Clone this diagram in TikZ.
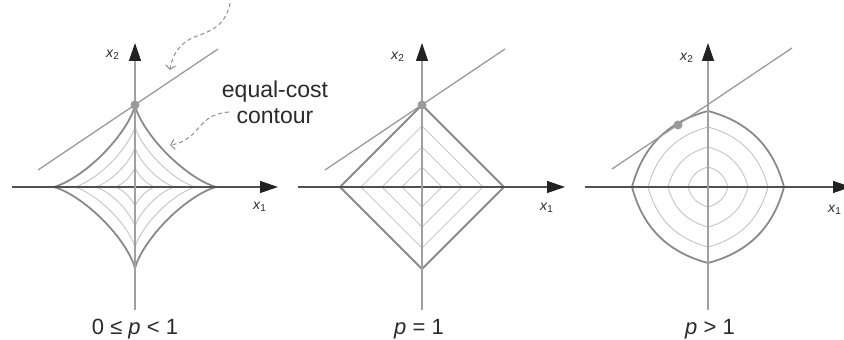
\documentclass[tikz,border=0pt]{standalone}
\usepackage{fontspec}
\setmainfont{Liberation Sans}
\usetikzlibrary{arrows.meta,positioning}

\definecolor{axdark}{HTML}{505050}
\definecolor{axlight}{HTML}{A0A0A0}
\definecolor{tipc}{HTML}{222222}
\definecolor{outc}{HTML}{8A8A8A}
\definecolor{innc}{HTML}{C8C8C8}
\definecolor{linec}{HTML}{9A9A9A}
\definecolor{notec}{HTML}{8C8C8C}
\definecolor{txtc}{HTML}{2A2A2A}

\begin{document}
\begin{tikzpicture}[
  x=0.5pt, y=0.5pt,
  xaxis/.style={draw=axdark, line width=0.65pt, -{Triangle[length=9pt,width=6pt,color=tipc]}},
  yaxis/.style={draw=axlight, line width=0.65pt, -{Triangle[length=9pt,width=6pt,color=tipc]}},
  outer/.style={draw=outc, line width=0.9pt},
  inner/.style={draw=innc, line width=0.5pt},
  cost/.style={draw=linec, line width=0.65pt},
  dot/.style={circle, fill=linec, inner sep=0pt, minimum size=4.5pt},
  axlab/.style={font=\fontsize{7}{8}\selectfont, text=txtc, inner sep=0pt},
  plabel/.style={font=\fontsize{11}{13}\selectfont, text=txtc, anchor=base},
  note/.style={draw=notec, line width=0.5pt, dash pattern=on 2pt off 1.5pt,
               -{Straight Barb[length=2pt,width=5pt]}}
]
\useasboundingbox (0,0) rectangle (844,340);

% p < 1
\begin{scope}[shift={(135,153)}]
  \foreach \lv in {20,40,61}
    \draw[inner] plot[domain=1:361, samples=181]
      ({\lv*sign(cos(\x))*abs(cos(\x))^(8/3)}, {\lv*sign(sin(\x))*abs(sin(\x))^(8/3)}) -- cycle;
  \draw[outer] plot[domain=1:361, samples=181]
      ({82*sign(cos(\x))*abs(cos(\x))^(8/3)}, {82*sign(sin(\x))*abs(sin(\x))^(8/3)}) -- cycle;
  \draw[xaxis] (-123,0) -- (143,0);
  \draw[yaxis] (0,-123) -- (0,144);
  \node[axlab] (xa1) at (125,-20) {\textit{x}\textsubscript{1}};
  \node[axlab] (ya1) at (-22,132) {\textit{x}\textsubscript{2}};
  \coordinate (la1) at (-97,17);
  \coordinate (lb1) at (83,138);
  \draw[cost] (la1) -- (lb1);
  \node[dot] (hit1) at (0,82) {};
  \node[plabel] (cap1) at (0,-148) {0 ≤ \textit{p} < 1};
\end{scope}

% p = 1
\begin{scope}[shift={(422,153)}]
  \foreach \lv in {20,40,61}
    \draw[inner] (\lv,0) -- (0,\lv) -- (-\lv,0) -- (0,-\lv) -- cycle;
  \draw[outer] (82,0) -- (0,82) -- (-82,0) -- (0,-82) -- cycle;
  \draw[xaxis] (-124,0) -- (143,0);
  \draw[yaxis] (0,-123) -- (0,144);
  \node[axlab] (xa2) at (125,-21) {\textit{x}\textsubscript{1}};
  \node[axlab] (ya2) at (-24,130) {\textit{x}\textsubscript{2}};
  \coordinate (la2) at (-97,17);
  \coordinate (lb2) at (83,138);
  \draw[cost] (la2) -- (lb2);
  \node[dot] (hit2) at (0,82) {};
  \node[plabel] (cap2) at (-3,-148) {\textit{p} = 1};
\end{scope}

% p > 1
\begin{scope}[shift={(708,153)}]
  \foreach \lv in {20,40,60}
    \draw[inner] (\lv,0) to[bend right=30] (0,\lv) to[bend right=30] (-\lv,0)
      to[bend right=30] (0,-\lv) to[bend right=30] (\lv,0);
  \draw[outer] (76,0) to[bend right=30] (0,76) to[bend right=30] (-76,0)
      to[bend right=30] (0,-76) to[bend right=30] (76,0);
  \draw[xaxis] (-123,0) -- (143,0);
  \draw[yaxis] (0,-123) -- (0,144);
  \node[axlab] (xa3) at (127,-23) {\textit{x}\textsubscript{1}};
  \node[axlab] (ya3) at (-21,129) {\textit{x}\textsubscript{2}};
  \coordinate (la3) at (-96,18);
  \coordinate (lb3) at (84,139);
  \draw[cost] (la3) -- (lb3);
  \node[dot] (hit3) at (-30,62) {};
  \node[plabel] (cap3) at (2,-148) {\textit{p} > 1};
\end{scope}

% labels
\node[font=\fontsize{11.5}{13}\selectfont, text=txtc, align=center] (eq) at (275,238) {equal-cost\\contour};
\coordinate (top) at (231,344);
\coordinate (tipa) at (170,270);
\coordinate (tipb) at (170,195);
\draw[note] (top) .. controls (229,318) and (215,310) .. (197,304)
  .. controls (180,298) and (172,285) .. (tipa);
\draw[note] ([shift={(14,-10)}]eq.west) .. controls (205,226) and (200,212) .. (192,205)
  .. controls (185,199) and (178,196) .. (tipb);
\end{tikzpicture}
\end{document}
